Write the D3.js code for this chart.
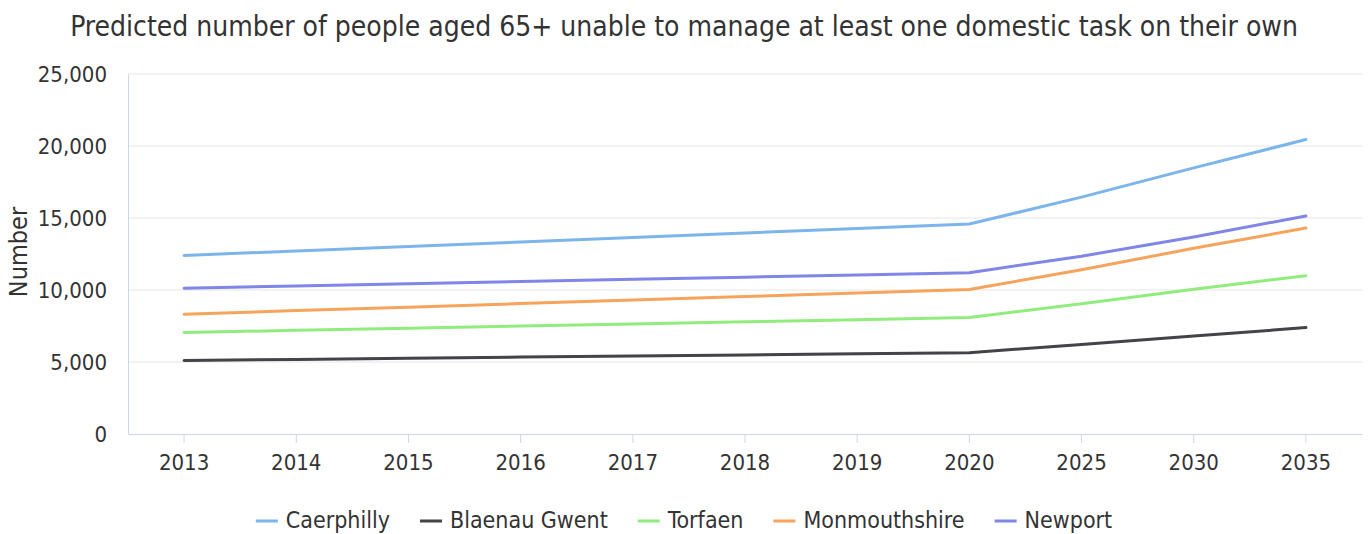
<!DOCTYPE html>
<html>
<head>
<meta charset="utf-8">
<script src="https://cdn.jsdelivr.net/npm/d3@7"></script>
<style>
  html, body { margin: 0; padding: 0; background: #ffffff; }
  svg { display: block; }
  text { font-family: "DejaVu Sans Condensed", "DejaVu Sans", sans-serif; }
</style>
</head>
<body>
<svg id="chart" width="1368" height="534"></svg>
<script>
const titleText = "Predicted number of people aged 65+ unable to manage at least one domestic task on their own";
const yAxisTitle = "Number";
const years = ["2013", "2014", "2015", "2016", "2017", "2018", "2019", "2020", "2025", "2030", "2035"];
const yTicks = [0, 5000, 10000, 15000, 20000, 25000];

const seriesNames = ["Caerphilly", "Blaenau Gwent", "Torfaen", "Monmouthshire", "Newport"];
const seriesColors = ["#7cb5ec", "#434348", "#90ed7d", "#f7a35c", "#8085e9"];

const caerphilly    = [12400, 12710, 13020, 13330, 13640, 13960, 14270, 14580, 16450, 18480, 20450];
const blaenauGwent  = [5100, 5180, 5260, 5340, 5410, 5490, 5570, 5650, 6220, 6800, 7390];
const torfaen       = [7050, 7200, 7350, 7500, 7640, 7790, 7940, 8090, 9050, 10050, 10990];
const monmouthshire = [8320, 8570, 8810, 9060, 9300, 9550, 9790, 10035, 11400, 12900, 14300];
const newport       = [10130, 10280, 10440, 10590, 10740, 10890, 11050, 11200, 12350, 13680, 15140];

const seriesValues = [caerphilly, blaenauGwent, torfaen, monmouthshire, newport];

const W = 1368, H = 534;
const margin = { left: 128, right: 6, top: 74, bottom: 100 };
const plotW = W - margin.left - margin.right;
const plotH = H - margin.top - margin.bottom;

const svg = d3.select("#chart");

const x = d3.scaleBand().domain(years).range([margin.left, margin.left + plotW]);
const y = d3.scaleLinear().domain([0, 25000]).range([margin.top + plotH, margin.top]);
const xc = d => x(d) + x.bandwidth() / 2;

// Title
svg.append("text")
  .attr("x", W / 2).attr("y", 36)
  .attr("text-anchor", "middle")
  .attr("fill", "#333333")
  .style("font-size", "28px")
  .text(titleText);

// Gridlines
svg.append("g")
  .selectAll("line")
  .data(yTicks.filter(t => t > 0))
  .join("line")
  .attr("x1", margin.left).attr("x2", margin.left + plotW)
  .attr("y1", d => y(d)).attr("y2", d => y(d))
  .attr("stroke", "#e6e6e6").attr("stroke-width", 1);

// Y axis
const yAxis = d3.axisLeft(y).tickValues(yTicks).tickSize(0).tickPadding(21)
  .tickFormat(d3.format(","));
const gy = svg.append("g").attr("transform", `translate(${margin.left},0)`).call(yAxis);
gy.select(".domain").attr("stroke", "#ccd6eb");
gy.selectAll("text").attr("fill", "#333333").style("font-size", "22px")
  .style("font-family", "\"DejaVu Sans Condensed\", sans-serif");

// X axis
const xAxis = d3.axisBottom(x).tickSize(9).tickPadding(11).tickSizeOuter(0);
const gx = svg.append("g").attr("transform", `translate(0,${margin.top + plotH})`).call(xAxis);
gx.select(".domain").attr("stroke", "#ccd6eb");
gx.selectAll(".tick line").attr("stroke", "#ccd6eb");
gx.selectAll("text").attr("fill", "#333333").style("font-size", "22px")
  .style("font-family", "\"DejaVu Sans Condensed\", sans-serif");

// Y axis title
svg.append("text")
  .attr("transform", `translate(27,${margin.top + plotH / 2 - 2}) rotate(-90)`)
  .attr("text-anchor", "middle")
  .attr("fill", "#333333")
  .style("font-size", "25px")
  .text(yAxisTitle);

// Lines
const line = d3.line().x((d, i) => xc(years[i])).y(d => y(d));
svg.append("g")
  .selectAll("path")
  .data(seriesValues)
  .join("path")
  .attr("d", d => line(d))
  .attr("fill", "none")
  .attr("stroke", (d, i) => seriesColors[i])
  .attr("stroke-width", 3)
  .attr("stroke-linejoin", "round")
  .attr("stroke-linecap", "round");

// Legend
const legend = svg.append("g");
const items = legend.selectAll("g").data(seriesNames).join("g");
items.append("line")
  .attr("x1", 0).attr("x2", 22).attr("y1", 0).attr("y2", 0)
  .attr("stroke", (d, i) => seriesColors[i]).attr("stroke-width", 3);
items.append("text")
  .attr("x", 30).attr("y", 7)
  .attr("fill", "#333333")
  .style("font-size", "23px")
  .text(d => d);
let cx = 0;
const gap = 30;
items.each(function () {
  const bb = this.getBBox();
  d3.select(this).attr("transform", `translate(${cx},0)`);
  cx += bb.width + gap;
});
const totalW = cx - gap;
legend.attr("transform", `translate(${(W - totalW) / 2},${521})`);
</script>
</body>
</html>
